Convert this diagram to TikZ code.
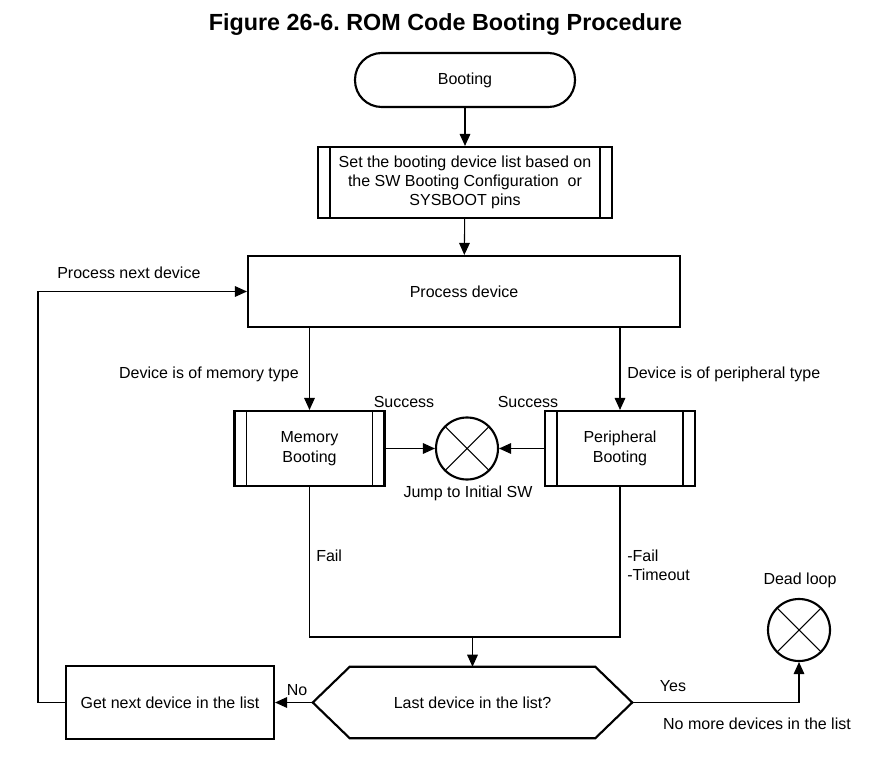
\documentclass[tikz,border=0pt]{standalone}
\usepackage{fontspec}
\setmainfont{Liberation Sans}
\usetikzlibrary{positioning,arrows.meta}

\tikzset{
  box/.style={draw, line width=1.6pt, align=center, inner sep=2pt},
  term/.style={box, rounded corners=20pt, minimum width=165pt, minimum height=40.5pt},
  sub/.style={box, path picture={
      \draw[line width=0.8pt]
        ([xshift=9pt]path picture bounding box.north west) -- ([xshift=9pt]path picture bounding box.south west)
        ([xshift=-9pt]path picture bounding box.north east) -- ([xshift=-9pt]path picture bounding box.south east);}},
  sink/.style={draw, circle, line width=1.6pt, minimum size=46.5pt, inner sep=0pt, path picture={
      \draw[line width=0.8pt]
        (path picture bounding box.north west) -- (path picture bounding box.south east)
        (path picture bounding box.north east) -- (path picture bounding box.south west);}},
  line/.style={line width=0.8pt},
  lbl/.style={inner sep=0pt},
  >={Triangle[length=9pt,width=8pt]}
}

\begin{document}
\begin{tikzpicture}[x=0.75pt, y=-0.75pt, font=\fontsize{12}{14.5}\selectfont]
                \useasboundingbox (0,0) rectangle (885,759);
                \node[font=\bfseries\fontsize{17.5}{21}\selectfont] (title) at (445.5,25) {Figure 26-6.\ ROM Code Booting Procedure};

                \node[term] (boot) at (465,80) {Booting};
                \node[sub, minimum width=220.5pt, minimum height=53.25pt] (setb) at (465,182.5) {Set the booting device list based on\\the SW Booting Configuration\ \ or\\SYSBOOT pins};
                \node[box, minimum width=324pt, minimum height=53.25pt] (proc) at (464,291.5) {Process device};
                \node[sub, minimum width=112.5pt, minimum height=56.25pt] (mem) at (309.5,448.5) {Memory\\Booting};
                \node[sub, minimum width=112.5pt, minimum height=56.25pt] (per) at (620,448.5) {Peripheral\\Booting};
                \node[sink] (jump) at (467,448.5) {};
                \node[minimum width=239.25pt, minimum height=53.25pt, inner sep=0pt] (dec) at (472.5,702.5) {Last device in the list?};
                \draw[line width=1.6pt] (dec.west) -- ([xshift=27.75pt]dec.north west) -- ([xshift=-27.75pt]dec.north east)
                  -- (dec.east) -- ([xshift=-27.75pt]dec.south east) -- ([xshift=27.75pt]dec.south west) -- cycle;
                \node[box, minimum width=156pt, minimum height=54.75pt] (get) at (170,702.5) {Get next device in the list};
                \node[sink] (dead) at (799,630) {};

                \coordinate (merge) at (472.5,637);
                \coordinate (back) at (38,500);

                \draw[line,->] (boot) -- (setb);
                \draw[line,->] (setb) -- (proc);
                \draw[line,->] (mem.north |- proc.south) -- (mem.north);
                \draw[line,->] (per.north |- proc.south) -- (per.north);
                \draw[line,->] (mem) -- (jump);
                \draw[line,->] (per) -- (jump);
                \draw[line] (mem.south) |- (merge) -| (per.south);
                \draw[line,->] (merge) -- (dec.north);
                \draw[line,->] (dec.west) -- (get.east);
                \draw[line,->] (get.west) -| (back) |- (proc.west);
                \draw[line,->] (dec.east) -| (dead.south);

                \node[lbl, anchor=west] (nextlbl) at (57,273) {Process next device};
                \node[lbl, anchor=east] (memlbl) at (299,374) {Device is of memory type};
                \node[lbl, anchor=west] (perlbl) at (627,374) {Device is of peripheral type};
                \node[lbl] (sucl) at (404,402) {Success};
                \node[lbl] (sucr) at (528,402) {Success};
                \node[lbl] (jumplbl) at (468,493) {Jump to Initial SW};
                \node[lbl, anchor=west] (faill) at (316,556) {Fail};
                \node[lbl, anchor=west, align=left] (failr) at (627,565) {-Fail\\-Timeout};
                \node[lbl] (deadlbl) at (800,580) {Dead loop};
                \node[lbl] (yes) at (673,686) {Yes};
                \node[lbl] (nomore) at (757,724) {No more devices in the list};
                \node[lbl] (no) at (297,690) {No};
\end{tikzpicture}
\end{document}
